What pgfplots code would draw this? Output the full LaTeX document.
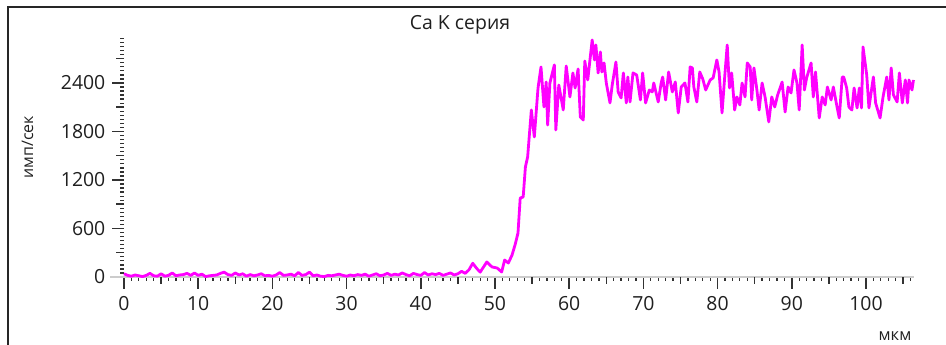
\documentclass[border=0pt]{standalone}
\usepackage{fontspec}
\setmainfont{Open Sans}
\usepackage{pgfplots}
\pgfplotsset{compat=1.18}
\usepackage{pgfplotstable}
\definecolor{mag}{RGB}{255,0,255}
\definecolor{tickc}{RGB}{50,50,50}
\renewcommand{\normalsize}{\fontsize{19.5}{22}\selectfont}
\pgfplotstableread{
x y
0 40
0.5 20
1 10
1.5 25
2 15
2.5 5
3 20
3.5 45
4 15
4.5 10
5 40
5.5 10
6 20
6.5 50
7 15
7.5 25
8 30
8.5 45
9 20
9.5 50
10 20
10.5 35
11 5
11.5 15
12 20
12.5 25
13 45
13.5 60
14 30
14.5 20
15 50
15.5 25
16 40
16.5 10
17 30
17.5 15
18 25
18.5 40
19 15
19.5 20
20 10
20.5 25
21 55
21.5 20
22 25
22.5 35
23 15
23.5 55
24 20
24.5 30
25 60
25.5 15
26 25
26.5 10
27 5
27.5 20
28 15
28.5 25
29 35
29.5 20
30 10
30.5 25
31 15
31.5 30
32 20
32.5 35
33 10
33.5 25
34 40
34.5 15
35 25
35.5 45
36 20
36.5 35
37 25
37.5 50
38 30
38.5 15
39 45
39.5 30
40 20
40.5 55
41 25
41.5 40
42 30
42.5 45
43 20
43.5 35
44 50
44.5 25
45 40
45.5 70
46 45
46.5 90
47 170
47.5 110
48 60
48.5 130
48.9 186
49.3 150
49.6 124
50.3 111
50.9 62
51.3 210
51.8 173
52.3 272
52.7 396
53.1 544
53.4 977
53.8 990
54.1 1361
54.4 1485
54.9 2066
55.3 1732
55.8 2338
56.2 2598
56.6 2103
56.9 2412
57.1 1880
57.4 2400
58.0 2623
58.2 1819
58.6 2375
59.2 2066
59.6 2610
60.1 2227
60.5 2524
60.8 2338
61.2 2573
61.5 1979
61.9 1942
62.1 2672
62.5 2437
63.1 2932
63.4 2685
63.6 2870
63.9 2524
64.2 2784
64.4 2536
64.7 2648
65.0 2400
65.5 2153
65.8 2375
66.3 2660
66.6 2289
67.0 2215
67.3 2524
67.7 2153
67.9 2474
68.2 2165
68.6 2524
69.1 2499
69.6 2190
69.9 2524
70.3 2153
70.8 2313
71.2 2289
71.4 2400
72.0 2165
72.4 2400
72.6 2474
73.0 2190
73.4 2536
73.9 2289
74.3 2412
74.7 2029
75.1 2350
75.6 2400
76.0 2165
76.3 2598
76.6 2586
76.8 2350
77.2 2165
77.6 2536
78.0 2450
78.4 2313
79.0 2437
79.4 2462
79.9 2685
80.2 2536
80.6 2029
81.0 2524
81.3 2870
81.6 2338
81.9 2524
82.3 2066
82.6 2227
83.0 2128
83.3 2400
83.7 2227
84.0 2648
84.4 2598
84.6 2190
84.9 2586
85.3 2313
85.6 2066
86.0 2400
86.4 2227
86.9 1918
87.3 2227
87.7 2103
88.1 2252
88.7 2412
89.1 2041
89.5 2350
89.9 2276
90.3 2561
90.7 2400
91.0 2066
91.4 2870
91.7 2313
92.0 2462
92.6 2648
92.9 2227
93.2 2536
93.7 1967
94.1 2227
94.5 2128
94.8 2350
95.3 2190
95.6 2350
96.1 2103
96.4 1967
96.8 2474
97.0 2474
97.4 2338
97.7 2103
98.1 2066
98.4 2338
98.8 2091
99.1 2338
99.4 2091
99.6 2846
100.1 2499
100.4 2091
100.8 2350
101.0 2474
101.3 2153
101.9 1967
102.3 2227
102.8 2474
103.1 2190
103.4 2586
103.7 2252
104.2 2165
104.5 2524
104.9 2153
105.3 2437
105.6 2153
105.8 2437
106.2 2313
106.4 2437
}\datatable
\begin{document}
\begin{tikzpicture}
\path[use as bounding box] (0,0) rectangle (946bp,345bp);
\draw[line width=2bp, black!85] (8bp,-2bp) -- (8bp,338.3bp) -- (948bp,338.3bp);
\begin{axis}[
 at={(124bp,68bp)}, anchor=south west,
 width=790.2bp, height=238.5bp, scale only axis,
 xmin=0, xmax=106.5, ymin=0, ymax=2950,
 axis lines*=left,
 x axis line style={draw=none},
 y axis line style={draw=none},
 xtick={0,10,...,110}, ytick={0,600,...,3000},
 yticklabels={0,600,1200,1800,2400,3000},
 minor x tick num=9, minor y tick num=11,
 tick align=outside,
 major tick length=12bp, minor tick length=4bp,
 major tick style={tickc, line width=1.5bp},
 minor tick style={tickc, line width=1.3bp},
 xticklabel style={font=\fontsize{19.5}{22}\selectfont, text=black!88, yshift=-1bp},
 yticklabel style={font=\fontsize{19.5}{22}\selectfont, text=black!88},
 /pgf/number format/assume math mode=true,
 clip=false,
]
\draw[black!20, line width=1.2bp] ([xshift=-14bp]axis cs:0,0) -- (axis cs:106.5,0);
\pgfplotsinvokeforeach{5,15,...,105}{\draw[tickc, line width=1.5bp] (axis cs:#1,0) -- ++(0,-7bp);}
\pgfplotsinvokeforeach{300,900,...,2700}{\draw[tickc, line width=1.5bp] (axis cs:0,#1) -- ++(-8bp,0);}
\addplot[mag, line width=2.8bp, line join=round] table {\datatable};
\end{axis}
\node[anchor=base, font=\fontsize{19.5}{22}\selectfont, text=black!88] at (460bp,315bp) {Ca K серия};
\node[anchor=base, rotate=90, font=\fontsize{16}{18}\selectfont, text=black!88] at (33bp,198bp) {имп/сек};
\node[anchor=base, font=\fontsize{16.5}{18}\selectfont, text=black!88] at (895bp,5bp) {мкм};
\end{tikzpicture}
\end{document}
